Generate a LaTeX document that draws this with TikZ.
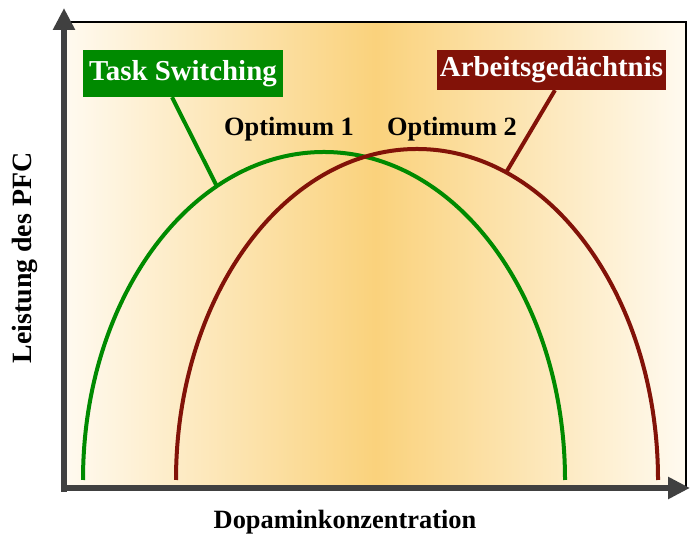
\documentclass[tikz,border=0pt]{standalone}
\usepackage{fontspec}
\setmainfont{Liberation Serif}
\usetikzlibrary{positioning, calc, arrows.meta}
\definecolor{tsgreen}{RGB}{0,138,0}
\definecolor{agred}{RGB}{130,18,8}
\definecolor{axgray}{RGB}{64,64,64}
\definecolor{cream}{RGB}{255,250,240}
\definecolor{dopa}{RGB}{250,210,124}
\tikzset{
  achse/.style={line width=6.5bp, axgray, -{Triangle[length=22bp,width=21bp]}},
  kurve/.style={line width=4bp},
  schild/.style={inner sep=0pt, text=white, font=\fontsize{29}{31}\selectfont\bfseries},
  beschr/.style={font=\fontsize{26.5}{28}\selectfont\bfseries},
}
\begin{document}
\begin{tikzpicture}[x=1bp,y=1bp]
                \useasboundingbox (0,0) rectangle (690,534);
                % Hintergrund
                \shade[left color=cream, right color=cream, middle color=dopa] (65,46) rectangle (686,512);
                \draw[line width=1.2bp] (65,512) -- (686,512) -- (686,46);
                % Kurven
                \coordinate (g0) at (324,54);
                \coordinate (r0) at (417,54);
                \draw[kurve, tsgreen] ($(g0)+(-241,0)$) arc[start angle=180, end angle=0, x radius=241bp, y radius=328bp];
                \draw[kurve, agred] ($(r0)+(-241,0)$) arc[start angle=180, end angle=0, x radius=241bp, y radius=331bp];
                \coordinate (gpt) at ($(g0)+(116.4:241bp and 328bp)$);
                \coordinate (rpt) at ($(r0)+(68.3:241bp and 331bp)$);
                % Achsen
                \draw[achse] (61,46) -- (690,46);
                \draw[achse] (64,42) -- (64,526);
                % Beschriftung
                \node[schild, fill=tsgreen, minimum width=200bp, minimum height=47bp] (ts) at (183,460.5) {Task Switching};
                \node[schild, fill=agred, minimum width=229bp, minimum height=40bp] (ag) at (551.5,464) {Arbeitsgedächtnis};
                \draw[line width=4bp, tsgreen] ($(ts.south west)!0.445!(ts.south east)$) -- (gpt);
                \draw[line width=4bp, agred] ($(ag.south west)!0.515!(ag.south east)$) -- (rpt);
                \node[beschr, anchor=base] (opt1) at (289,398) {Optimum 1};
                \node[beschr, anchor=base] (opt2) at (452,398) {Optimum 2};
                \node[beschr, rotate=90, font=\fontsize{28}{30}\selectfont\bfseries] (ylab) at (25,276) {Leistung des PFC};
                \node[beschr, anchor=base] (xlab) at (345,5) {Dopaminkonzentration};
            \end{tikzpicture}
\end{document}
